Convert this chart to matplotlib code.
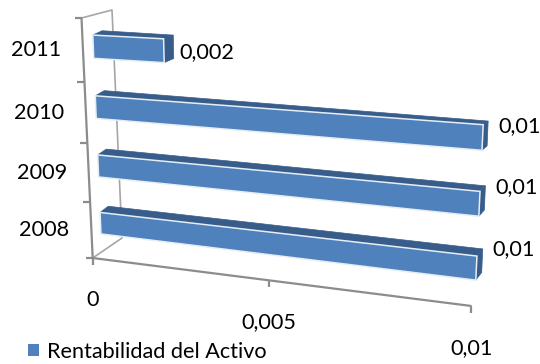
import numpy as np
import matplotlib
matplotlib.use('Agg')
import matplotlib.pyplot as plt
from matplotlib.patches import Polygon, Patch

plt.rcParams['font.family'] = ['Lato', 'DejaVu Sans']

# Chart data
years = ['2008', '2009', '2010', '2011']
values = [0.01, 0.01, 0.01, 0.002]
value_labels = ['0,01', '0,01', '0,01', '0,002']
x_ticks = [0, 0.005, 0.01]
x_tick_labels = ['0', '0,005', '0,01']
series_name = 'Rentabilidad del Activo'

BAR_HALF = 0.19
FRONT_COLOR = '#4F81BD'
SIDE_COLOR = '#385D8A'
EDGE_COLOR = '#E6EDF5'
AXIS_COLOR = '#8C8C8C'
FONT_SIZE = 15.6


def fit_homography(src, dst):
    # least squares plane -> canvas mapping, h33 fixed to 1
    rows, rhs = [], []
    for (u, v), (x, y) in zip(src, dst):
        u = u * 100  # keeps the system well conditioned
        rows.append([u, v, 1, 0, 0, 0, -u * x, -v * x])
        rows.append([0, 0, 0, u, v, 1, -u * y, -v * y])
        rhs += [x, y]
    h = np.linalg.lstsq(np.array(rows), np.array(rhs), rcond=None)[0]
    return np.append(h, 1).reshape(3, 3)


def apply(h, u, v):
    p = h @ np.array([u * 100, v, 1.0])
    return p[:2] / p[2]


lo, hi = 0.5 - BAR_HALF, 0.5 + BAR_HALF

# Perspective planes: bar front faces, bar back faces, category axis
front = fit_homography(
    [(0, lo), (0.01, lo), (0, 2 + hi), (0.01, 2 + hi), (0, 3 + hi), (0.002, 3 + hi)],
    [(100.7, 233.7), (476, 280), (95.7, 96.7), (483, 125), (92.7, 35), (163.5, 38)])
back = fit_homography(
    [(0, hi), (0.01, hi), (0, 2 + hi), (0.01, 2 + hi), (0, 3 + hi), (0.002, 3 + hi)],
    [(108, 206), (482.7, 249.3), (105, 90.7), (488, 120.7), (101, 31), (174, 35)])
axis_plane = fit_homography(
    [(0, 0), (0.01, 0), (0, 4), (0.01, 4)],
    [(92.7, 258), (471.5, 306), (81.5, 18), (497, 30)])
wall_top = (112, 10)
wall_bottom = (122, 238)

fig = plt.figure(figsize=(5.4, 3.64), dpi=100)
ax = fig.add_axes([0, 0, 1, 1])
ax.set_xlim(0, 540)
ax.set_ylim(364, 0)
ax.axis('off')

# Walls and floor
axis_kw = dict(color=AXIS_COLOR, lw=1.6, solid_capstyle='butt', zorder=1)
corner = apply(axis_plane, 0, 4)
origin = apply(axis_plane, 0, 0)
ax.plot([corner[0], wall_top[0], wall_bottom[0], origin[0]],
        [corner[1], wall_top[1], wall_bottom[1], origin[1]], lw=1.2,
        color='#A6A6A6', zorder=1)
end = apply(axis_plane, 0.01, 0)
ax.plot([corner[0], origin[0], end[0]], [corner[1], origin[1], end[1]], **axis_kw)

# Category axis ticks
for i in range(len(years) + 1):
    x, y = apply(axis_plane, 0, i)
    ax.plot([x - 7, x], [y, y], **axis_kw)

# Value axis ticks and labels
for val, lab in zip(x_ticks, x_tick_labels):
    x, y = apply(axis_plane, val, 0)
    ax.plot([x, x], [y, y + 7], **axis_kw)
    ax.text(x, y + 42, lab, ha='center', va='center', fontsize=FONT_SIZE, color='black')

# Bars, back to front
label_dx = [11, 11, 11, 6]
label_dy = [-7, -4, 1, 13]
for i in range(len(years) - 1, -1, -1):
    val = values[i]
    v0, v1 = i + lo, i + hi
    fl, fr = apply(front, 0, v1), apply(front, val, v1)
    br = apply(front, val, v0)
    bl = apply(front, 0, v0)
    tl, tr = apply(back, 0, v1), apply(back, val, v1)
    er = apply(back, val, v0)
    ax.add_patch(Polygon([fl, tl, tr, fr], fc=SIDE_COLOR, ec=SIDE_COLOR, lw=0.5, zorder=2))
    ax.add_patch(Polygon([fr, tr, er, br], fc=SIDE_COLOR, ec=SIDE_COLOR, lw=0.5, zorder=2))
    ax.add_patch(Polygon([bl, fl, fr, br], fc=FRONT_COLOR, ec=EDGE_COLOR, lw=1.1, zorder=3))
    ax.text(er[0] + label_dx[i], fr[1] + label_dy[i], value_labels[i], ha='left', va='center',
            fontsize=FONT_SIZE, color='black', zorder=4)

    # Category label sits left of the axis
    x, y = apply(axis_plane, 0, i + 0.5)
    ax.text(x - 47, y, years[i], ha='center', va='center', fontsize=FONT_SIZE, color='black')

ax.legend(handles=[Patch(fc=FRONT_COLOR, ec='none', label=series_name)], frameon=False,
          loc='center left', bbox_to_anchor=(28, 352), bbox_transform=ax.transData,
          borderpad=0, borderaxespad=0, handlelength=0.5, handleheight=0.5,
          handletextpad=0.37, prop={'size': FONT_SIZE})

fig.savefig('out.png', dpi=100)
